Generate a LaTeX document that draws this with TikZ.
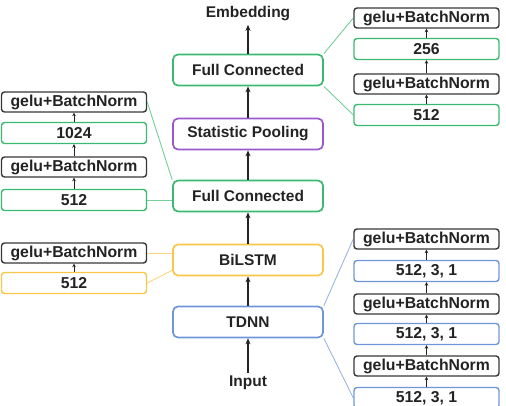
\documentclass[tikz,border=0pt]{standalone}
\usepackage{fontspec}
\setmainfont{Liberation Sans}
\usetikzlibrary{arrows.meta,calc}
\definecolor{fcgreen}{RGB}{58,186,112}
\definecolor{poolpurple}{RGB}{152,88,204}
\definecolor{lstmyellow}{RGB}{248,198,72}
\definecolor{tdnnblue}{RGB}{112,150,218}
\definecolor{normgray}{RGB}{55,55,55}
\definecolor{inkgray}{RGB}{35,35,35}
\tikzset{
  mainbox/.style={draw, rounded corners=5pt, line width=1.7pt, minimum width=150pt, minimum height=31pt, inner sep=0pt, font=\bfseries\fontsize{15.5}{18}\selectfont, text=inkgray},
  subbox/.style={draw, rounded corners=3pt, line width=1.4pt, minimum width=145pt, minimum height=21pt, inner sep=0pt, font=\bfseries\fontsize{15.8}{18}\selectfont, text=inkgray},
  normbox/.style={subbox, draw=normgray, minimum height=20pt},
  bigarrow/.style={-{Stealth[length=6pt,width=5pt]}, line width=1.8pt, draw=inkgray},
  smallarrow/.style={-{Stealth[length=3.5pt,width=3.5pt]}, line width=1pt, draw=inkgray},
  zoomline/.style={line width=0.9pt, opacity=0.7}
}
\begin{document}
\begin{tikzpicture}[x=1pt, y=-1pt]
\useasboundingbox (0,0) rectangle (506,406);
\node[font=\bfseries\fontsize{15.5}{18}\selectfont, text=inkgray] (emb) at (248, 14) {Embedding};
\node[mainbox, draw=fcgreen] (fc2) at (248, 70) {Full Connected};
\node[mainbox, draw=poolpurple] (pool) at (248, 134) {Statistic Pooling};
\node[mainbox, draw=fcgreen] (fc1) at (248, 196) {Full Connected};
\node[mainbox, draw=lstmyellow] (lstm) at (248, 260) {BiLSTM};
\node[mainbox, draw=tdnnblue] (tdnn) at (248, 322) {TDNN};
\node[font=\bfseries\fontsize{15.5}{18}\selectfont, text=inkgray] (inp) at (248, 383) {Input};
\draw[bigarrow] (inp) -- (tdnn);
\draw[bigarrow] (tdnn) -- (lstm);
\draw[bigarrow] (lstm) -- (fc1);
\draw[bigarrow] (fc1) -- (pool);
\draw[bigarrow] (pool) -- (fc2);
\draw[bigarrow] (fc2) -- (emb);
\node[normbox] (rg1) at (426.5, 18) {gelu+BatchNorm};
\node[subbox, draw=fcgreen] (r256) at (426.5, 49) {256};
\node[normbox] (rg2) at (426.5, 84) {gelu+BatchNorm};
\node[subbox, draw=fcgreen] (r512) at (426.5, 115) {512};
\draw[smallarrow] (r512) -- (rg2);
\draw[smallarrow] (rg2) -- (r256);
\draw[smallarrow] (r256) -- (rg1);
\draw[zoomline, fcgreen] (fc2.north east) -- (rg1.west);
\draw[zoomline, fcgreen] (fc2.south east) -- (r512.west);
\node[normbox] (lg1) at (74, 102) {gelu+BatchNorm};
\node[subbox, draw=fcgreen] (l1024) at (74, 133) {1024};
\node[normbox] (lg2) at (74, 167) {gelu+BatchNorm};
\node[subbox, draw=fcgreen] (l512) at (74, 200) {512};
\draw[smallarrow] (l512) -- (lg2);
\draw[smallarrow] (lg2) -- (l1024);
\draw[smallarrow] (l1024) -- (lg1);
\draw[zoomline, fcgreen] (lg1.east) -- (fc1.north west);
\draw[zoomline, fcgreen] (l512.east) -- (l512.east -| fc1.west);
\node[normbox] (yg) at (74, 253) {gelu+BatchNorm};
\node[subbox, draw=lstmyellow] (y512) at (74, 283) {512};
\draw[smallarrow] (y512) -- (yg);
\draw[zoomline, lstmyellow] (yg.east) -- (yg.east -| lstm.west);
\draw[zoomline, lstmyellow] (y512.east) -- ($(lstm.south west)+(0,-6)$);
\node[normbox] (bg1) at (426.5, 239) {gelu+BatchNorm};
\node[subbox, draw=tdnnblue] (b1) at (426.5, 271) {512, 3, 1};
\node[normbox] (bg2) at (426.5, 304) {gelu+BatchNorm};
\node[subbox, draw=tdnnblue] (b2) at (426.5, 334) {512, 3, 1};
\node[normbox] (bg3) at (426.5, 366) {gelu+BatchNorm};
\node[subbox, draw=tdnnblue] (b3) at (426.5, 398) {512, 3, 1};
\draw[smallarrow] (b3) -- (bg3);
\draw[smallarrow] (bg3) -- (b2);
\draw[smallarrow] (b2) -- (bg2);
\draw[smallarrow] (bg2) -- (b1);
\draw[smallarrow] (b1) -- (bg1);
\draw[zoomline, tdnnblue] (tdnn.north east) -- (bg1.west);
\draw[zoomline, tdnnblue] (tdnn.south east) -- (b3.west);
\end{tikzpicture}
\end{document}
